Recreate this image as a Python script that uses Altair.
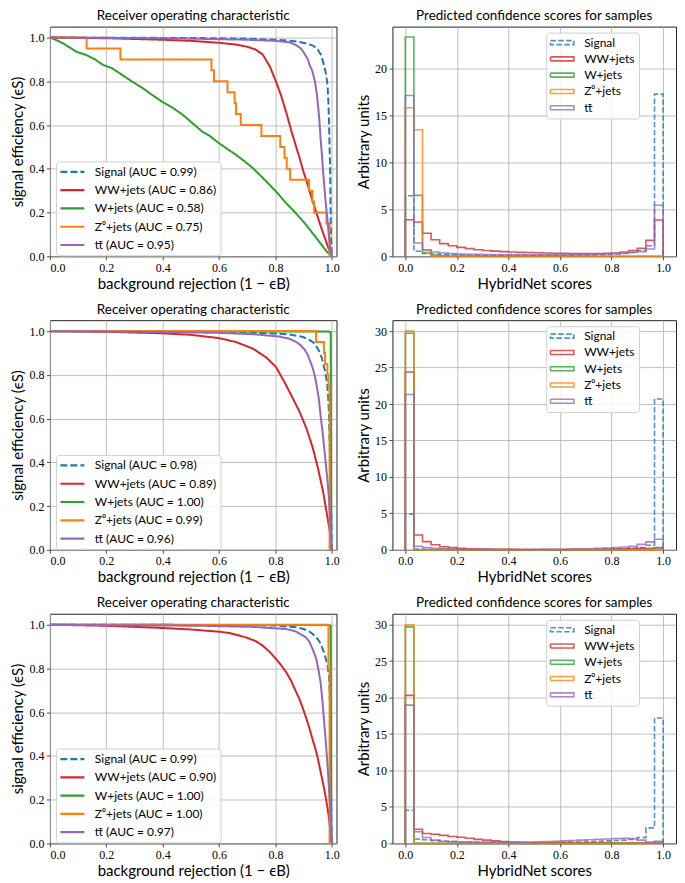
import altair as alt
import pandas as pd

# ---------------- data ----------------
SERIES = ["Signal", "WW+jets", "W+jets", "Z\u2070+jets", "tt\u0304"]
COLORS = ["#1f77b4", "#d62728", "#2ca02c", "#ff7f0e", "#9467bd"]

AUC_1 = ["0.99", "0.86", "0.58", "0.75", "0.95"]
AUC_2 = ["0.98", "0.89", "1.00", "0.99", "0.96"]
AUC_3 = ["0.99", "0.90", "1.00", "1.00", "0.97"]

X_TICKS = [0.0, 0.2, 0.4, 0.6, 0.8, 1.0]

# ROC curves: (background rejection, signal efficiency)
ROC1_SIGNAL = [(0, 1.0), (0.3, 0.999), (0.5, 0.998), (0.7, 0.995), (0.8, 0.99), (0.85, 0.985), (0.886, 0.98),
               (0.91, 0.973), (0.933, 0.963), (0.949, 0.948), (0.962, 0.92), (0.973, 0.87), (0.98, 0.83),
               (0.985, 0.78), (0.988, 0.7), (0.99, 0.62), (0.992, 0.5), (0.994, 0.4), (0.995, 0.28),
               (0.996, 0.16), (0.998, 0.06), (1.0, 0.0)]
ROC1_WW = [(0, 1.0), (0.2, 0.997), (0.4, 0.99), (0.5, 0.985), (0.6, 0.976), (0.66, 0.968), (0.7, 0.958),
           (0.73, 0.945), (0.755, 0.922), (0.78, 0.868), (0.8, 0.805), (0.82, 0.735), (0.84, 0.65),
           (0.856, 0.575), (0.87, 0.515), (0.886, 0.448), (0.9, 0.385), (0.915, 0.325), (0.93, 0.26),
           (0.945, 0.2), (0.96, 0.14), (0.975, 0.085), (0.99, 0.03), (1.0, 0.0)]
ROC1_W = [(0, 1.0), (0.02, 0.99), (0.047, 0.973), (0.07, 0.955), (0.094, 0.935), (0.129, 0.92), (0.16, 0.9),
          (0.188, 0.875), (0.22, 0.86), (0.247, 0.837), (0.29, 0.8), (0.329, 0.769), (0.36, 0.74),
          (0.4, 0.705), (0.44, 0.675), (0.47, 0.648), (0.5, 0.615), (0.54, 0.57), (0.565, 0.552),
          (0.6, 0.517), (0.63, 0.49), (0.66, 0.464), (0.69, 0.435), (0.72, 0.403), (0.75, 0.365),
          (0.779, 0.327), (0.81, 0.285), (0.838, 0.243), (0.87, 0.2), (0.898, 0.16), (0.92, 0.125),
          (0.945, 0.084), (0.965, 0.05), (0.981, 0.023), (1.0, 0.0)]
ROC1_Z = [(0, 1.0), (0.13, 1.0), (0.13, 0.95), (0.25, 0.95), (0.25, 0.9), (0.573, 0.9), (0.573, 0.85),
          (0.582, 0.85), (0.582, 0.8), (0.63, 0.8), (0.63, 0.75), (0.655, 0.75), (0.655, 0.7), (0.66, 0.7),
          (0.66, 0.65), (0.677, 0.65), (0.677, 0.6), (0.75, 0.6), (0.75, 0.55), (0.817, 0.55), (0.817, 0.5),
          (0.832, 0.5), (0.832, 0.45), (0.84, 0.45), (0.84, 0.4), (0.852, 0.4), (0.852, 0.35), (0.919, 0.35),
          (0.919, 0.3), (0.931, 0.3), (0.931, 0.25), (0.937, 0.25), (0.937, 0.2), (0.981, 0.2), (0.981, 0.15),
          (0.992, 0.15), (0.992, 0.0), (1.0, 0.0)]
ROC1_TT = [(0, 1.0), (0.3, 0.998), (0.5, 0.995), (0.7, 0.99), (0.8, 0.985), (0.85, 0.978), (0.874, 0.965),
           (0.89, 0.95), (0.904, 0.925), (0.915, 0.9), (0.921, 0.875), (0.93, 0.85), (0.94, 0.8),
           (0.947, 0.74), (0.951, 0.69), (0.956, 0.62), (0.96, 0.54), (0.965, 0.46), (0.969, 0.39),
           (0.974, 0.31), (0.979, 0.236), (0.985, 0.16), (0.99, 0.084), (0.995, 0.03), (1.0, 0.0)]

ROC2_SIGNAL = [(0, 1.0), (0.4, 0.998), (0.6, 0.996), (0.7, 0.994), (0.779, 0.99), (0.85, 0.985),
               (0.898, 0.973), (0.92, 0.96), (0.933, 0.95), (0.945, 0.93), (0.957, 0.904), (0.965, 0.875),
               (0.971, 0.843), (0.977, 0.81), (0.983, 0.767), (0.987, 0.7), (0.99, 0.615), (0.992, 0.5),
               (0.994, 0.39), (0.996, 0.27), (0.998, 0.16), (0.999, 0.07), (1.0, 0.0)]
ROC2_WW = [(0, 1.0), (0.2, 0.997), (0.4, 0.99), (0.5, 0.983), (0.6, 0.968), (0.66, 0.95), (0.72, 0.92),
           (0.767, 0.88), (0.802, 0.836), (0.832, 0.767), (0.856, 0.707), (0.886, 0.63), (0.91, 0.555),
           (0.933, 0.464), (0.951, 0.372), (0.969, 0.266), (0.983, 0.16), (0.993, 0.084), (0.997, 0.03),
           (1.0, 0.0)]
ROC2_W = [(0, 1.0), (0.99, 0.998), (0.996, 0.995), (0.997, 0.5), (0.998, 0.0), (1.0, 0.0)]
ROC2_Z = [(0, 1.0), (0.944, 1.0), (0.944, 0.95), (0.972, 0.95), (0.972, 0.9), (0.976, 0.9), (0.976, 0.85),
          (0.984, 0.85), (0.984, 0.8), (0.988, 0.8), (0.988, 0.75), (0.992, 0.75), (0.992, 0.0), (1.0, 0.0)]
ROC2_TT = [(0, 1.0), (0.3, 0.997), (0.5, 0.994), (0.6, 0.992), (0.72, 0.986), (0.814, 0.975), (0.85, 0.965),
           (0.874, 0.95), (0.89, 0.935), (0.904, 0.915), (0.915, 0.89), (0.921, 0.87), (0.93, 0.84),
           (0.939, 0.8), (0.947, 0.745), (0.954, 0.69), (0.96, 0.615), (0.967, 0.54), (0.973, 0.465),
           (0.979, 0.39), (0.985, 0.31), (0.99, 0.236), (0.993, 0.16), (0.996, 0.084), (1.0, 0.0)]

ROC3_SIGNAL = [(0, 1.0), (0.5, 0.999), (0.7, 0.998), (0.8, 0.996), (0.874, 0.988), (0.9, 0.98),
               (0.915, 0.973), (0.93, 0.96), (0.945, 0.942), (0.955, 0.925), (0.963, 0.904), (0.972, 0.875),
               (0.979, 0.843), (0.985, 0.81), (0.99, 0.767), (0.992, 0.7), (0.994, 0.615), (0.995, 0.5),
               (0.996, 0.39), (0.997, 0.25), (0.998, 0.12), (1.0, 0.0)]
ROC3_WW = [(0, 1.0), (0.2, 0.995), (0.4, 0.985), (0.5, 0.978), (0.6, 0.968), (0.636, 0.962), (0.695, 0.942),
           (0.73, 0.925), (0.755, 0.904), (0.78, 0.875), (0.802, 0.843), (0.82, 0.815), (0.838, 0.783),
           (0.855, 0.745), (0.868, 0.707), (0.885, 0.66), (0.898, 0.615), (0.91, 0.57), (0.921, 0.524),
           (0.933, 0.47), (0.945, 0.418), (0.955, 0.36), (0.963, 0.31), (0.972, 0.255), (0.979, 0.205),
           (0.985, 0.16), (0.99, 0.114), (0.996, 0.038), (1.0, 0.0)]
ROC3_W = [(0, 1.0), (0.99, 0.998), (0.996, 0.995), (0.998, 0.0), (1.0, 0.0)]
ROC3_Z = [(0, 1.0), (0.988, 1.0), (0.988, 0.8), (0.992, 0.8), (0.992, 0.0), (1.0, 0.0)]
ROC3_TT = [(0, 1.0), (0.3, 0.997), (0.54, 0.995), (0.72, 0.99), (0.838, 0.98), (0.87, 0.97), (0.898, 0.95),
           (0.91, 0.94), (0.921, 0.92), (0.933, 0.885), (0.945, 0.843), (0.953, 0.79), (0.96, 0.737),
           (0.966, 0.66), (0.971, 0.585), (0.977, 0.49), (0.983, 0.39), (0.988, 0.29), (0.993, 0.19),
           (0.997, 0.09), (1.0, 0.0)]

# Histograms: 30 bins over [0, 1]
N_BINS = 30
HIST1_SIGNAL = [6.45, 0.53, 0.3, 0.25, 0.2, 0.18, 0.15, 0.13, 0.12, 0.1, 0.1, 0.1, 0.1, 0.1, 0.1, 0.1, 0.1,
                0.1, 0.1, 0.12, 0.13, 0.15, 0.17, 0.2, 0.25, 0.3, 0.4, 0.6, 1.13, 17.3]
HIST1_WW = [3.9, 3.65, 2.45, 1.77, 1.35, 1.13, 0.95, 0.82, 0.7, 0.62, 0.55, 0.5, 0.45, 0.42, 0.4, 0.37, 0.35,
            0.33, 0.32, 0.3, 0.3, 0.3, 0.3, 0.32, 0.35, 0.45, 0.6, 0.85, 1.7, 3.87]
HIST1_W = [23.4, 6.5, 0.35, 0.12, 0.05, 0.03, 0.02, 0.02, 0.01, 0.01, 0.01, 0.01, 0.01, 0.01, 0.01, 0.01,
           0.01, 0.01, 0.01, 0.01, 0.01, 0.01, 0.01, 0.01, 0.01, 0.01, 0.01, 0.01, 0.01, 0.0]
HIST1_Z = [15.85, 13.5, 0.6, 0.0, 0.0, 0.0, 0.0, 0.0, 0.0, 0.0, 0.0, 0.0, 0.0, 0.0, 0.0, 0.0, 0.0, 0.0, 0.0,
           0.0, 0.0, 0.0, 0.0, 0.0, 0.0, 0.0, 0.0, 0.0, 0.0, 0.0]
HIST1_TT = [17.15, 1.42, 0.7, 0.45, 0.35, 0.3, 0.25, 0.22, 0.2, 0.18, 0.17, 0.16, 0.15, 0.15, 0.15, 0.15,
            0.15, 0.15, 0.16, 0.17, 0.18, 0.2, 0.22, 0.25, 0.28, 0.32, 0.4, 0.5, 0.78, 5.45]

HIST2_SIGNAL = [4.9, 0.12, 0.08, 0.06, 0.05, 0.05, 0.04, 0.04, 0.04, 0.04, 0.04, 0.04, 0.04, 0.04, 0.04,
                0.04, 0.04, 0.05, 0.05, 0.06, 0.07, 0.08, 0.1, 0.12, 0.14, 0.15, 0.2, 0.3, 0.64, 20.7]
HIST2_WW = [24.4, 2.04, 1.13, 0.7, 0.42, 0.3, 0.2, 0.15, 0.12, 0.1, 0.08, 0.07, 0.06, 0.05, 0.05, 0.05, 0.05,
            0.05, 0.05, 0.05, 0.06, 0.07, 0.08, 0.1, 0.12, 0.15, 0.18, 0.2, 0.22, 0.25]
HIST2_W = [29.7, 0.0, 0.0, 0.0, 0.0, 0.0, 0.0, 0.0, 0.0, 0.0, 0.0, 0.0, 0.0, 0.0, 0.0, 0.0, 0.0, 0.0, 0.0,
           0.0, 0.0, 0.0, 0.0, 0.0, 0.0, 0.0, 0.0, 0.0, 0.02, 0.32]
HIST2_Z = [30.0, 0.0, 0.0, 0.0, 0.0, 0.0, 0.0, 0.0, 0.0, 0.0, 0.0, 0.0, 0.0, 0.0, 0.0, 0.0, 0.0, 0.0, 0.0,
           0.0, 0.0, 0.0, 0.0, 0.0, 0.0, 0.0, 0.0, 0.0, 0.0, 0.0]
HIST2_TT = [21.3, 0.5, 0.3, 0.2, 0.15, 0.12, 0.1, 0.08, 0.07, 0.06, 0.05, 0.05, 0.05, 0.05, 0.05, 0.05,
            0.06, 0.07, 0.08, 0.1, 0.12, 0.15, 0.2, 0.25, 0.3, 0.38, 0.5, 0.75, 1.09, 1.45]

HIST3_SIGNAL = [4.54, 0.6, 0.5, 0.38, 0.3, 0.25, 0.2, 0.17, 0.15, 0.13, 0.12, 0.11, 0.1, 0.1, 0.1, 0.1, 0.1,
                0.12, 0.14, 0.17, 0.2, 0.25, 0.3, 0.35, 0.4, 0.45, 0.55, 0.8, 2.13, 17.2]
HIST3_WW = [20.3, 1.95, 1.36, 1.25, 1.1, 0.95, 0.85, 0.7, 0.55, 0.45, 0.35, 0.25, 0.18, 0.12, 0.1, 0.1, 0.1,
            0.1, 0.1, 0.1, 0.1, 0.1, 0.1, 0.1, 0.1, 0.1, 0.1, 0.1, 0.1, 0.05]
HIST3_W = [29.7, 0.0, 0.0, 0.0, 0.0, 0.0, 0.0, 0.0, 0.0, 0.0, 0.0, 0.0, 0.0, 0.0, 0.0, 0.0, 0.0, 0.0, 0.0,
           0.0, 0.0, 0.0, 0.0, 0.0, 0.0, 0.0, 0.0, 0.0, 0.02, 0.3]
HIST3_Z = [30.0, 0.0, 0.0, 0.0, 0.0, 0.0, 0.0, 0.0, 0.0, 0.0, 0.0, 0.0, 0.0, 0.0, 0.0, 0.0, 0.0, 0.0, 0.0,
           0.0, 0.0, 0.0, 0.0, 0.0, 0.0, 0.0, 0.0, 0.0, 0.0, 0.0]
HIST3_TT = [18.97, 1.59, 0.82, 0.45, 0.3, 0.25, 0.2, 0.17, 0.15, 0.15, 0.15, 0.15, 0.15, 0.17, 0.2, 0.22,
            0.25, 0.3, 0.35, 0.4, 0.45, 0.5, 0.55, 0.6, 0.65, 0.7, 0.65, 0.45, 0.2, 0.05]

# ---------------- styling ----------------
SANS = "Lato, 'DejaVu Sans'"
SERIF = "Liberation Serif"
W_ROC, W_HIST, H = 287, 284, 230


def roc_panel(curves, aucs):
    labels = [f"{s} (AUC = {a})" for s, a in zip(SERIES, aucs)]
    rows = []
    for lab, pts in zip(labels, curves):
        for i, (x, y) in enumerate(pts):
            rows.append({"series": lab, "x": x, "y": y, "i": i})
    df = pd.DataFrame(rows)
    leg = alt.Legend(title=None, orient="none", legendX=6, legendY=135,
                     symbolType="M-2.4,0H2.4", symbolSize=100, symbolStrokeWidth=2.2,
                     symbolOffset=6, labelOffset=16,
                     labelFontSize=12, rowPadding=5.3)
    return alt.Chart(df).mark_line(strokeWidth=2, clip=True).encode(
        x=alt.X("x:Q", scale=alt.Scale(domain=[0, 1.0166], nice=False, zero=False),
                axis=alt.Axis(values=X_TICKS, format=".1f", title="background rejection (1 \u2212 \u03f5B)")),
        y=alt.Y("y:Q", scale=alt.Scale(domain=[0, 1.05], nice=False),
                axis=alt.Axis(values=X_TICKS, format=".1f", title="signal efficiency (\u03f5S)")),
        color=alt.Color("series:N", scale=alt.Scale(domain=labels, range=COLORS), legend=leg),
        strokeDash=alt.StrokeDash("series:N", scale=alt.Scale(domain=labels, range=[[7, 3], [1, 0], [1, 0], [1, 0], [1, 0]]),
                                  legend=leg),
        order=alt.Order("i:Q"),
    ).properties(width=W_ROC, height=H, title="Receiver operating characteristic")


def hist_panel(hists, ymax, yticks):
    rows = []
    for lab, vals in zip(SERIES, hists):
        pts = [(0.0, 0.0)]
        for k, v in enumerate(vals):
            pts.append((k / N_BINS, v))
            pts.append(((k + 1) / N_BINS, v))
        pts.append((1.0, 0.0))
        for i, (x, y) in enumerate(pts):
            rows.append({"series": lab, "x": x, "y": y, "i": i})
    df = pd.DataFrame(rows)
    leg = alt.Legend(title=None, orient="none", legendX=154, legendY=6,
                     symbolType="M-2.35,-0.4H2.35V0.4H-2.35Z", symbolSize=100, symbolStrokeWidth=1.6,
                     symbolFillColor="transparent", symbolOffset=6, labelOffset=16,
                     labelFontSize=12, rowPadding=4.3)
    return alt.Chart(df).mark_line(strokeWidth=1.6, opacity=0.78).encode(
        x=alt.X("x:Q", scale=alt.Scale(domain=[-0.05, 1.05], nice=False, zero=False),
                axis=alt.Axis(values=X_TICKS, format=".1f", title="HybridNet scores")),
        y=alt.Y("y:Q", scale=alt.Scale(domain=[0, ymax], nice=False),
                axis=alt.Axis(values=yticks, format="d", title="Arbitrary units")),
        color=alt.Color("series:N", scale=alt.Scale(domain=SERIES, range=COLORS), legend=leg),
        strokeDash=alt.StrokeDash("series:N", scale=alt.Scale(domain=SERIES, range=[[5.5, 2.4], [1, 0], [1, 0], [1, 0], [1, 0]]),
                                  legend=leg),
        order=alt.Order("i:Q"),
    ).properties(width=W_HIST, height=H, title="Predicted confidence scores for samples")


def row(curves, aucs, hists, ymax, yticks):
    return alt.hconcat(roc_panel(curves, aucs), hist_panel(hists, ymax, yticks), spacing=15).resolve_scale(
        color="independent", strokeDash="independent")


r1 = row([ROC1_SIGNAL, ROC1_WW, ROC1_W, ROC1_Z, ROC1_TT], AUC_1,
         [HIST1_SIGNAL, HIST1_WW, HIST1_W, HIST1_Z, HIST1_TT], 24.5, [0, 5, 10, 15, 20])
r2 = row([ROC2_SIGNAL, ROC2_WW, ROC2_W, ROC2_Z, ROC2_TT], AUC_2,
         [HIST2_SIGNAL, HIST2_WW, HIST2_W, HIST2_Z, HIST2_TT], 31.5, [0, 5, 10, 15, 20, 25, 30])
r3 = row([ROC3_SIGNAL, ROC3_WW, ROC3_W, ROC3_Z, ROC3_TT], AUC_3,
         [HIST3_SIGNAL, HIST3_WW, HIST3_W, HIST3_Z, HIST3_TT], 31.5, [0, 5, 10, 15, 20, 25, 30])

chart = alt.vconcat(r1, r2, r3, spacing=10).resolve_scale(
    color="independent", strokeDash="independent"
).properties(
    padding={"left": 2, "top": 0, "right": 0, "bottom": 0}
).configure_view(
    stroke="#222", strokeWidth=1
).configure_axis(
    grid=True, gridColor="#b0b0b0", gridWidth=0.8, domain=False,
    tickColor="#222", tickSize=3.5, tickWidth=0.8,
    labelFont=SERIF, labelFontSize=12, labelColor="#000", labelPadding=2.5,
    titleFont=SANS, titleFontSize=15, titleFontWeight="normal", titleColor="#000", titlePadding=3
).configure_title(
    font=SANS, fontSize=13.5, fontWeight="normal", color="#000", offset=0
).configure_legend(
    labelFont=SANS, labelColor="#000", strokeColor="#d0d0d0", fillColor="rgba(255,255,255,0.85)",
    cornerRadius=3, padding=4
)

chart.save("out.html", embed_options={"renderer": "svg", "actions": False})
